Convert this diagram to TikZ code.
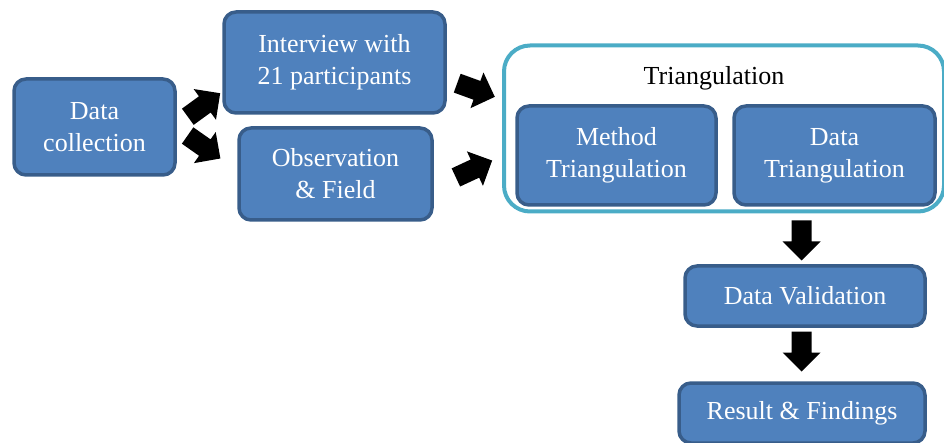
\documentclass[tikz,border=0pt]{standalone}
\usepackage{fontspec}
\setmainfont{Liberation Serif}
\definecolor{boxfill}{HTML}{4F81BD}
\definecolor{boxline}{HTML}{385D8A}
\definecolor{teal}{HTML}{4BACC6}
\tikzset{
  bluebox/.style={draw=boxline, fill=boxfill, line width=3.5pt, rounded corners=12pt,
    text=white, align=center, font=\fontsize{26}{32}\selectfont, inner sep=0pt},
  blockarr/.pic={\fill[black] (-20,-10) -- (1,-10) -- (1,-19) -- (20,0) -- (1,19) -- (1,10) -- (-20,10) -- cycle;},
}
\begin{document}
\begin{tikzpicture}[x=1pt,y=-1pt]
\useasboundingbox (0,0) rectangle (944,443);
\clip (0,0) rectangle (944,443);
% outer triangulation frame
\node[draw=teal, line width=4pt, rounded corners=26pt, minimum width=440pt, minimum height=166pt, inner sep=0pt] (tri) at (724,128.5) {};
\node[font=\fontsize{26}{32}\selectfont] (tritxt) at (714,78) {Triangulation};
% boxes
\node[bluebox, minimum width=161pt, minimum height=96pt] (dc) at (94.5,127) {Data\\collection};
\node[bluebox, minimum width=221pt, minimum height=101pt] (iv) at (334.5,62.5) {Interview with\\21 participants};
\node[bluebox, minimum width=193pt, minimum height=92pt] (ob) at (335.5,174) {Observation\\\& Field};
\node[bluebox, minimum width=199pt, minimum height=99pt] (mt) at (616.5,155.5) {Method\\Triangulation};
\node[bluebox, minimum width=201pt, minimum height=99pt] (dt) at (834.5,155.5) {Data\\Triangulation};
\node[bluebox, minimum width=240pt, minimum height=60pt] (dv) at (805,296) {Data Validation};
\node[bluebox, minimum width=246pt, minimum height=60pt] (rf) at (802,413) {Result \& Findings};
% block arrows
\pic (a1) at (204,105) [rotate=36] {blockarr};
\pic (a2) at (204,147) [rotate=-35] {blockarr};
\pic (a3) at (476,90) [rotate=-20] {blockarr};
\pic (a4) at (474,169) [rotate=25] {blockarr};
\pic (a5) at (801.5,240.5) [rotate=-90] {blockarr};
\pic (a6) at (801.5,351.5) [rotate=-90] {blockarr};
\end{tikzpicture}
\end{document}
